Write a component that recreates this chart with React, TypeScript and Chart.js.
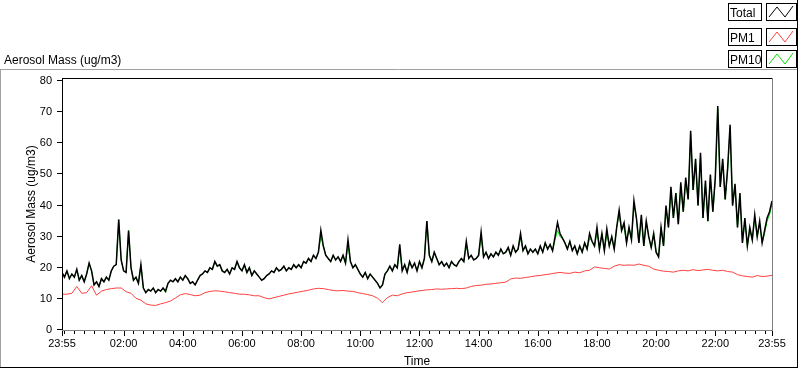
import React, { useEffect, useRef } from "react";
import { Chart, registerables } from "chart.js";

Chart.register(...registerables);

// ---- data -------------------------------------------------------------
const startTime = "23:55";
const totalIntervalMin = 5;
const pm1IntervalMin = 10;
const pm10IntervalMin = 5;

const xTickLabels = ["23:55", "02:00", "04:00", "06:00", "08:00", "10:00", "12:00", "14:00", "16:00", "18:00", "20:00", "22:00", "23:55"];
const yTickValues = [0, 10, 20, 30, 40, 50, 60, 70, 80];

const seriesNames = ["Total", "PM1", "PM10"];
const seriesColors = ["#000000", "#ff4040", "#00e000"];

// Total aerosol mass, 5-minute samples (ug/m3)
const totalValues = [
  18.5, 17, 19, 16.5, 18, 17, 19.5, 16, 17.5, 15.5, 18, 21.5,
  19, 14.5, 15.5, 14, 16.5, 15.5, 17, 16, 19, 20.5, 21, 35.5,
  22.5, 19, 18.5, 32, 20, 16, 17, 15, 21, 13.5, 12, 13,
  12.5, 13.5, 12, 13, 12.5, 13.5, 12.5, 15, 16, 15.5, 16.5, 15.5,
  17, 16, 17.5, 16.5, 15, 15.5, 14.5, 16, 17.5, 18, 19, 18.5,
  20, 19.5, 22, 20.5, 21, 19, 18.5, 19.5, 18, 20, 19.5, 22,
  20, 19, 21, 18.5, 20, 17.5, 19, 18, 17, 16, 16.5, 17.5,
  18, 19, 18.5, 20, 19, 19.5, 20.5, 19, 20, 19.5, 21, 20,
  21, 20, 22, 21.5, 23, 22, 24, 23, 25, 32, 27, 24,
  23, 22, 24, 22.5, 23.5, 22, 24, 21.5, 29, 22, 20, 21,
  19.5, 18, 17, 18.5, 16.5, 18, 17, 16, 15, 13.5, 14.5, 18,
  19, 20.5, 19, 21, 20, 27.5, 19, 21, 18.5, 22, 20, 21.5,
  19, 22, 20, 23, 35, 24, 22, 25, 23, 21, 22, 20.5,
  21.5, 20, 22, 21, 20.5, 22, 23, 22, 28.5, 23, 24, 22.5,
  23, 24, 31.5, 23.5, 25, 23, 24.5, 23.5, 25, 24, 26, 24.5,
  25, 26.5, 24, 27, 25, 26, 31, 25.5, 27, 24.5, 26, 25,
  26, 24.5, 27, 25, 28, 26, 27.5, 25.5, 30, 34.5, 31, 29.5,
  28, 26, 28.5, 25.5, 27, 24.5, 27, 25, 28, 26, 31, 28.5,
  27, 33, 26, 31, 25.5, 32.5, 27, 30, 26, 33, 38.5, 32,
  34.5, 28, 33, 29, 41.5, 36, 28, 37, 27, 35, 30, 26.5,
  31, 25, 23.5, 33, 27, 40, 33, 46, 36, 44, 34, 47.5,
  38, 49, 42, 64, 45, 55, 40, 57, 36, 48, 35, 50,
  38, 49, 72, 46, 55, 42, 52, 66, 40, 47, 33, 44,
  28, 36, 27, 33, 29, 37, 30, 35, 28, 32, 36, 38, 41.5,
];

// PM1, 10-minute samples (ug/m3)
const pm1Values = [
  11.5, 11.5, 11.8, 14.0, 11.8, 12.0,
  14.2, 11.2, 12.5, 13.0, 13.3, 13.5,
  13.5, 12.3, 11.8, 10.2, 9.6, 8.4,
  8.0, 7.9, 8.4, 8.8, 9.3, 10.3,
  11.3, 11.7, 11.4, 11.0, 11.2, 12.0,
  12.4, 12.6, 12.5, 12.3, 12.0, 11.8,
  11.5, 11.5, 11.3, 11.0, 11.0, 10.4,
  10.0, 10.4, 10.8, 11.2, 11.6, 11.9,
  12.2, 12.5, 12.8, 13.2, 13.4, 13.3,
  13.0, 12.7, 12.6, 12.7, 12.5, 12.4,
  12.0, 11.7, 11.4, 11.0, 10.2, 8.8,
  10.4, 11.2, 11.0, 11.6, 12.0, 12.2,
  12.5, 12.7, 12.9, 13.0, 13.2, 13.1,
  13.2, 13.3, 13.4, 13.3, 13.5, 14.0,
  14.3, 14.4, 14.7, 14.8, 15.0, 15.2,
  15.4, 16.4, 16.7, 16.6, 16.9, 17.1,
  17.4, 17.5, 17.8, 18.0, 18.3, 18.5,
  18.3, 18.2, 18.6, 18.4, 19.0, 19.2,
  20.3, 20.0, 19.8, 19.6, 20.5, 21.0,
  20.8, 20.9, 20.8, 21.2, 20.8, 20.5,
  19.6, 19.2, 18.9, 18.8, 18.6, 19.0,
  19.2, 19.0, 19.4, 19.1, 19.3, 19.5,
  19.2, 19.0, 19.2, 18.8, 18.6, 17.8,
  17.4, 17.2, 17.0, 17.5, 17.2, 17.3, 17.6,
];

// PM10, 5-minute samples (ug/m3) - nearly equal to Total
const pm10Values = [
  18.5, 17, 19, 16.5, 18, 17, 19.5, 16, 17.5, 15.5, 18, 21.5,
  19, 14.5, 15.5, 14, 16.5, 15.5, 17, 16, 19, 20.5, 21, 35.5,
  22.5, 19, 18.5, 32, 20, 16, 17, 15, 21, 13.5, 12, 13,
  12.5, 13.5, 12, 13, 12.5, 13.5, 12, 15, 16, 15.5, 16.5, 15.5,
  17, 16, 17.5, 16.5, 15, 15.5, 14.5, 16, 17.5, 18, 19, 18.5,
  20, 19.5, 22, 20.5, 21, 19, 18.5, 19.5, 18, 20, 19.5, 22,
  20, 19, 21, 18.5, 20, 17.5, 19, 18, 17, 16, 16.5, 17.5,
  18, 19, 18.5, 20, 19, 19.5, 20.5, 19, 20, 19.5, 21, 20,
  21, 20, 22, 21.5, 23, 22, 24, 23, 25, 30, 27, 24,
  23, 22, 24, 22.5, 23.5, 22, 24, 21.5, 27, 22, 20, 21,
  19.5, 18, 17, 18.5, 16.5, 18, 17, 16, 15, 13.5, 14.5, 18,
  19, 20.5, 19, 21, 20, 26, 19, 21, 18.5, 22, 20, 21.5,
  19, 22, 20, 23, 35, 24, 22, 25, 23, 21, 22, 20.5,
  21.5, 20, 22, 21, 20.5, 22, 23, 22, 27, 23, 24, 22.5,
  23, 24, 30, 23.5, 25, 23, 24.5, 23.5, 25, 24, 26, 24.5,
  25, 26.5, 24, 27, 25, 26, 29.5, 25.5, 27, 24.5, 26, 25,
  26, 24.5, 27, 25, 28, 26, 27.5, 25.5, 29, 32, 30, 29.5,
  28, 26, 28.5, 25.5, 27, 24.5, 27, 25, 28, 26, 29.5, 28.5,
  27, 31.5, 26, 31, 25.5, 31, 27, 30, 26, 33, 37, 32,
  33, 28, 33, 29, 40, 36, 28, 35.5, 27, 35, 30, 26.5,
  31, 25, 23.5, 33, 27, 39, 33, 44.5, 36, 44, 34, 46,
  38, 47.5, 42, 63, 45, 54, 40, 56, 36, 47, 35, 49,
  38, 48, 71, 46, 54, 42, 51, 65, 40, 46, 33, 43,
  28, 35, 27, 32, 29, 36, 30, 34, 28, 31, 35, 37, 40.5,
];

// ---- helpers ----------------------------------------------------------
const toMinutes = (s: string) => {
  const [h, m] = s.split(":").map(Number);
  return h * 60 + m;
};
const startMin = toMinutes(startTime);
const xTickMinutes = xTickLabels.map((l, i) => {
  let d = toMinutes(l) - startMin;
  if (d <= 0 && i > 0) d += 1440;
  return d;
});
const series = (vals: number[], step: number) => vals.map((v, i) => ({ x: i * step, y: v }));

const FONT = '"Liberation Sans", Arial, sans-serif';
const legendTops = [3, 28, 50];

const framePlugin = {
  id: "lvFrames",
  beforeDraw(chart: any) {
    const ctx = chart.ctx as CanvasRenderingContext2D;
    const ln = (x1: number, y1: number, x2: number, y2: number) => {
      ctx.beginPath();
      ctx.moveTo(x1, y1);
      ctx.lineTo(x2, y2);
      ctx.stroke();
    };
    ctx.save();
    ctx.lineWidth = 1;
    ctx.strokeStyle = "#a0a0a0";
    ln(0, 69.5, 797, 69.5);
    ln(0.5, 69.5, 0.5, 367);
    ctx.strokeStyle = "#000";
    ln(0, 367.5, 798, 367.5);
    ln(797.5, 0, 797.5, 368);
    legendTops.forEach((t, k) => {
      ctx.strokeStyle = "#000";
      ctx.strokeRect(728.5, t + 0.5, 33, 17);
      ctx.strokeRect(766.5, t + 0.5, 30, 17);
      ctx.strokeStyle = seriesColors[k];
      ctx.beginPath();
      ctx.moveTo(769, t + 14);
      ctx.lineTo(777, t + 4);
      ctx.lineTo(785, t + 14);
      ctx.lineTo(793, t + 3);
      ctx.stroke();
    });
    ctx.restore();
  },
  afterDraw(chart: any) {
    const ctx = chart.ctx as CanvasRenderingContext2D;
    const { left, right, top, bottom } = chart.chartArea;
    const xs = chart.scales.x;
    const ys = chart.scales.y;
    const ln = (x1: number, y1: number, x2: number, y2: number) => {
      ctx.beginPath();
      ctx.moveTo(x1, y1);
      ctx.lineTo(x2, y2);
      ctx.stroke();
    };
    ctx.save();
    ctx.lineWidth = 1;
    ctx.strokeStyle = "#000";
    ln(left, top + 0.5, right, top + 0.5);
    ln(left + 0.5, top, left + 0.5, bottom);
    ctx.strokeStyle = "#808080";
    ln(right + 0.5, top, right + 0.5, bottom + 1);
    ln(left, bottom + 0.5, right + 1, bottom + 0.5);
    ctx.strokeStyle = "#000";
    yTickValues.forEach((v) => {
      const y = Math.round(ys.getPixelForValue(v)) - 0.5;
      ln(left - 5, y, left, y);
    });
    for (let m = 5; m < 1440; m += 20) {
      const x = Math.round(xs.getPixelForValue(m)) + 0.5;
      ln(x, bottom + 1, x, bottom + 4);
    }
    xTickMinutes.forEach((m) => {
      const x = Math.round(xs.getPixelForValue(m)) + 0.5;
      ln(x, bottom + 1, x, bottom + 6);
    });
    ctx.restore();
  },
};

export default function App() {
  const ref = useRef<HTMLCanvasElement>(null);
  useEffect(() => {
    const chart = new Chart(ref.current as HTMLCanvasElement, {
      type: "line",
      data: {
        datasets: [
          { label: seriesNames[0], data: series(totalValues, totalIntervalMin), borderColor: seriesColors[0], borderWidth: 1.5, pointRadius: 0, tension: 0 },
          { label: seriesNames[1], data: series(pm1Values, pm1IntervalMin), borderColor: seriesColors[1], borderWidth: 1, pointRadius: 0, tension: 0 },
          { label: seriesNames[2], data: series(pm10Values, pm10IntervalMin), borderColor: seriesColors[2], borderWidth: 1, pointRadius: 0, tension: 0 },
        ],
      },
      options: {
        responsive: false,
        animation: false,
        devicePixelRatio: 1,
        layout: { padding: { left: 0, right: 28, top: 78, bottom: 0 } },
        plugins: { legend: { display: false }, tooltip: { enabled: false } },
        scales: {
          x: {
            type: "linear",
            min: 0,
            max: 1440,
            grid: { display: false, drawTicks: false },
            border: { display: false },
            afterBuildTicks: (s: any) => {
              s.ticks = xTickMinutes.map((v) => ({ value: v }));
            },
            afterFit: (s: any) => {
              s.height = 39;
            },
            ticks: {
              autoSkip: false,
              maxRotation: 0,
              padding: 7,
              color: "#000",
              font: { family: FONT, size: 11 },
              callback: (_v: any, i: number) => xTickLabels[i],
            },
            title: { display: true, text: "Time", color: "#000", font: { family: FONT, size: 12 }, padding: { top: 0, bottom: 0 } },
          },
          y: {
            min: 0,
            max: 81,
            grid: { display: false, drawTicks: false },
            border: { display: false },
            afterBuildTicks: (s: any) => {
              s.ticks = yTickValues.map((v) => ({ value: v }));
            },
            afterFit: (s: any) => {
              s.width = 62;
            },
            ticks: {
              padding: 10,
              color: "#000",
              font: { family: FONT, size: 11 },
              callback: (v: any) => String(v),
            },
            title: { display: true, text: "Aerosol Mass (ug/m3)", color: "#000", font: { family: FONT, size: 12 }, padding: { top: 24, bottom: 0 } },
          },
        },
      },
      plugins: [framePlugin],
    } as any);
    return () => chart.destroy();
  }, []);

  return (
    <div style={{ position: "fixed", left: 0, top: 0, width: 800, height: 369, background: "#fff", fontFamily: FONT, fontSize: 12, color: "#000", overflow: "hidden" }}>
      <canvas ref={ref} width={800} height={369} style={{ position: "absolute", left: 0, top: 0, width: 800, height: 369 }} />
      <div style={{ position: "absolute", left: 4, top: 53, lineHeight: "14px", whiteSpace: "nowrap" }}>Aerosol Mass (ug/m3)</div>
      {seriesNames.map((n, k) => (
        <div key={n} style={{ position: "absolute", left: 730, top: legendTops[k] + 3, lineHeight: "14px", whiteSpace: "nowrap" }}>
          {n}
        </div>
      ))}
    </div>
  );
}
